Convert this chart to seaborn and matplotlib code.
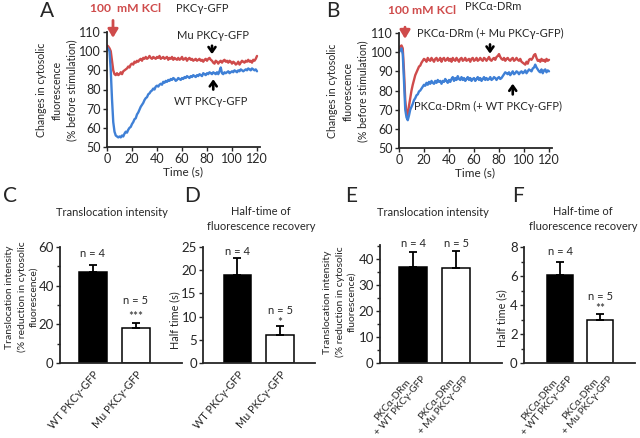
import numpy as np
import pandas as pd
import matplotlib
matplotlib.use("Agg")
import matplotlib.pyplot as plt
import seaborn as sns

sns.set_style("ticks")
plt.rcParams['font.family'] = ['Lato', 'DejaVu Sans']

# ---------------- data ----------------
time_s = list(range(0, 121))

a_mu = [103, 102.5, 101.5, 100, 95, 90, 88, 87.5, 88.5, 87.5,
        88, 89, 88, 89.5, 90, 90.5, 91, 92, 91.5, 93,
        93.5, 93, 94.5, 94, 95, 94.5, 95.5, 96, 95, 96.5,
        96, 97, 96, 96.5, 97.5, 96.5, 96, 97, 96.5, 96,
        97, 96.5, 97.5, 96, 96.5, 97, 96, 96.5, 97, 95.5,
        96.5, 96, 97, 95.5, 96.5, 96, 95.5, 96.5, 95.5, 96,
        97, 95.5, 96, 96.5, 95, 96, 96.5, 95.5, 96, 95,
        95.5, 96, 95, 95.5, 96, 95, 95.5, 94.5, 95.5, 96,
        95, 96, 96.5, 95.5, 95, 94, 93.5, 95, 94.5, 93.5,
        94.5, 95, 94, 95, 95.5, 94.5, 95, 94, 95, 94.5,
        93.5, 94.5, 94, 93, 93.5, 94.5, 93, 94, 95, 94.5,
        94, 95, 94.5, 95.5, 94.5, 95, 94, 95.5, 95, 96, 97.5]

a_wt = [102, 101, 100, 90, 75, 63, 58, 56, 55.5, 55,
        55.5, 55, 56, 55.5, 57, 58, 57.5, 59, 60, 60.5,
        62, 63, 64.5, 65, 67, 68, 69.5, 71, 72, 73,
        74.5, 75.5, 76, 77.5, 78, 79, 79.5, 80.5, 80, 81.5,
        82, 81.5, 82.5, 83, 82.5, 84, 83.5, 84.5, 84, 85,
        84.5, 85.5, 85, 86, 85.5, 84.5, 85, 86, 85.5, 85,
        86, 85.5, 86.5, 86, 87, 86.5, 86, 87, 86.5, 87.5,
        87, 86.5, 87.5, 87, 88, 87.5, 87, 88.5, 88, 87.5,
        88.5, 88, 89, 88.5, 88, 89, 88.5, 88, 89, 88,
        89.5, 91.5, 88.5, 88, 89, 88.5, 89, 89.5, 88.5, 89,
        89.5, 89, 90, 89.5, 89, 90, 89.5, 90.5, 90, 89.5,
        90, 90.5, 90, 91, 90.5, 90, 91, 90.5, 90, 90.5, 89.5]

b_mu = [102, 103, 103.5, 102, 90, 75, 68, 67, 72, 76,
        80, 83, 85.5, 88, 89.5, 91, 92.5, 93, 94.5, 95.5,
        96.5, 96, 95, 97, 96, 95.5, 97, 96, 95, 96.5,
        97, 95.5, 96, 97, 95, 96.5, 97, 95.5, 96, 97,
        95.5, 96.5, 95, 97, 96, 95.5, 97, 96, 95, 96.5,
        97, 95.5, 96, 97, 95.5, 96, 96.5, 95, 96.5, 97,
        95.5, 96, 97, 95.5, 96, 97, 96, 95.5, 97, 96.5,
        95.5, 96.5, 97.5, 96, 95.5, 96.5, 97, 96, 97.5, 98,
        99, 97.5, 96.5, 96, 97, 95.5, 96.5, 97, 96, 95.5,
        96.5, 97, 95.5, 96, 97, 96, 95.5, 96.5, 95, 94.5,
        94, 93.5, 95, 94, 96, 96.5, 96, 97, 98.5, 99,
        97, 95.5, 96, 95, 96.5, 95.5, 96, 95, 96.5, 95.5, 96]

b_wt = [100, 101, 102, 99, 85, 70, 66, 64.5, 67, 70,
        71.5, 73, 75, 76, 77.5, 78, 79.5, 80, 81, 82,
        83, 82.5, 84, 83, 84.5, 83.5, 85, 84, 83.5, 85,
        84, 85.5, 84.5, 85, 83.5, 85, 84.5, 86, 85, 84,
        85.5, 84.5, 86, 87, 85, 86.5, 85.5, 87.5, 86, 85.5,
        87, 85.5, 86.5, 85, 86, 87, 85.5, 86.5, 85, 86,
        86.5, 85, 86, 87, 85.5, 86.5, 85, 86, 87, 85.5,
        86.5, 85.5, 86, 87, 85.5, 86, 87, 86.5, 85.5, 86.5,
        87, 86, 86.5, 87.5, 88.5, 89.5, 89, 88.5, 89.5, 88,
        89, 90, 88.5, 89, 90, 89.5, 88.5, 89.5, 90, 89,
        89.5, 90.5, 89, 90, 91, 90.5, 90, 91.5, 92, 93.5,
        92, 91, 90, 89.5, 91, 89, 90.5, 91, 89.5, 90.5, 90]

cd_labels = ["WT PKCγ-GFP", "Mu PKCγ-GFP"]
ef_labels = ["PKCα-DRm\n+ WT PKCγ-GFP", "PKCα-DRm\n+ Mu PKCγ-GFP"]

c_vals = [47, 18]
c_err = [3.5, 2.5]
d_vals = [19, 6]
d_err = [3.7, 2.0]
e_vals = [37, 36.5]
e_err = [5.8, 6.5]
f_vals = [6.1, 3.0]
f_err = [0.9, 0.35]

n_labels = ["n = 4", "n = 5"]
c_sig = "***"
d_sig = "*"
f_sig = "**"

RED = "#cf4b4b"
BLUE = "#3f80d6"

W, H = 640, 438
fig = plt.figure(figsize=(W / 100, H / 100), dpi=100)

TICK_FS = 9
LAB_FS = 7.6


def rect(l, r, t, b):
    return [l / W, 1 - b / H, (r - l) / W, (b - t) / H]


def px(x, y):
    return x / W, 1 - y / H


def vlabel(x, y, s, fs=LAB_FS, ls=1.45):
    fig.text(*px(x, y), s, rotation=90, ha="center", va="center",
             multialignment="center", fontsize=fs, linespacing=ls)


def trace_axes(r, mu, wt):
    ax = fig.add_axes(r)
    df = pd.DataFrame({"t": time_s, "mu": mu, "wt": wt})
    sns.lineplot(data=df, x="t", y="mu", color=RED, lw=1.7, ax=ax)
    sns.lineplot(data=df, x="t", y="wt", color=BLUE, lw=1.7, ax=ax)
    ax.set_xlim(0, 122)
    ax.set_ylim(50, 110)
    ax.set_xticks(range(0, 121, 20))
    ax.set_yticks(range(50, 111, 10))
    ax.tick_params(labelsize=TICK_FS, length=3, width=1, pad=1.5)
    sns.despine(ax=ax)
    for s in ["left", "bottom"]:
        ax.spines[s].set_linewidth(1.3)
    ax.set_xlabel("Time (s)", fontsize=8.5, labelpad=1)
    ax.set_ylabel("")
    return ax


YL_AB = "Changes in cytosolic\nfluorescence\n(% before stimulation)"
ARROW_K = dict(arrowstyle="->,head_length=0.35,head_width=0.25", color="black", lw=1.9)
ARROW_R = dict(arrowstyle="-|>,head_length=0.5,head_width=0.3", color=RED, lw=2)

# ---------- A ----------
axA = trace_axes(rect(107, 259.5, 32, 147), a_mu, a_wt)
vlabel(57, 90, YL_AB)
axA.annotate("", xy=(4.8, 105.5), xytext=(4.8, 117.5), annotation_clip=False,
             arrowprops=ARROW_R)
axA.annotate("", xy=(84, 97), xytext=(84, 104.3), arrowprops=ARROW_K)
axA.annotate("", xy=(85, 86.8), xytext=(85, 78.5), arrowprops=ARROW_K)
axA.text(84.8, 108, "Mu PKCγ-GFP", fontsize=8, ha="center", va="center")
axA.text(83, 73.5, "WT PKCγ-GFP", fontsize=8, ha="center", va="center")
fig.text(*px(125, 8), "100  mM KCl", color=RED, fontsize=8.7, fontweight="bold",
         ha="center", va="center")
fig.text(*px(202, 9), "PKCγ-GFP", fontsize=8, ha="center", va="center")
fig.text(*px(47, 11), "A", fontsize=15, ha="center", va="center")

# ---------- B ----------
axB = trace_axes(rect(399, 551.5, 33, 148), b_mu, b_wt)
vlabel(348, 91, YL_AB)
axB.annotate("", xy=(4.8, 105.5), xytext=(4.8, 114.5), annotation_clip=False,
             arrowprops=ARROW_R)
axB.annotate("", xy=(72.8, 97.8), xytext=(72.8, 105.5), arrowprops=ARROW_K)
axB.annotate("", xy=(91, 85), xytext=(91, 76.5), arrowprops=ARROW_K)
axB.text(72.8, 109.5, "PKCα-DRm (+ Mu PKCγ-GFP)", fontsize=8, ha="center", va="center")
axB.text(71, 71.5, "PKCα-DRm (+ WT PKCγ-GFP)", fontsize=8, ha="center", va="center")
fig.text(*px(422, 10), "100 mM KCl", color=RED, fontsize=8.7, fontweight="bold",
         ha="center", va="center")
fig.text(*px(493, 7), "PKCα-DRm", fontsize=8, ha="center", va="center")
fig.text(*px(333, 11), "B", fontsize=15, ha="center", va="center")


# ---------- bar panels ----------
def bar_axes(r, xlim, ylim, labels, vals, errs, lab_fs=7.8):
    ax = fig.add_axes(r)
    df = pd.DataFrame({"g": labels, "v": vals})
    sns.barplot(data=df, x="g", y="v", hue="g", palette=["black", "white"],
                edgecolor="black", linewidth=1.1, width=0.65, legend=False, ax=ax)
    ax.errorbar([0, 1], vals, yerr=[[0, 0], errs], fmt="none", ecolor="black",
                elinewidth=1.3, capsize=3, capthick=1.3)
    ax.set_xlim(*xlim)
    ax.set_ylim(*ylim)
    sns.despine(ax=ax)
    for s in ["left", "bottom"]:
        ax.spines[s].set_linewidth(1.3)
    ax.set_xlabel("")
    ax.set_ylabel("")
    ax.set_xticks([0, 1])
    ax.set_xticklabels(labels, rotation=50, ha="right", va="top",
                       rotation_mode="anchor", fontsize=lab_fs, linespacing=1.15,
                       multialignment="center")
    ax.tick_params(axis="x", length=0, pad=4)
    ax.tick_params(axis="y", labelsize=TICK_FS + 0.5, length=3, width=1, pad=1.5)
    ax.tick_params(axis="y", which="minor", length=2, width=1)
    return ax


C_YL = "Translocation intensity\n(% reduction in cytosolic\nfluorescence)"

axC = bar_axes(rect(60, 182, 247, 363), (-0.767, 2.07), (0, 60), cd_labels, c_vals, c_err)
axC.set_yticks([0, 20, 40, 60])
axC.set_yticks([10, 30, 50], minor=True)
vlabel(22, 297, C_YL, fs=7.5, ls=1.4)
axC.text(0, 56.5, n_labels[0], ha="center", va="center", fontsize=8, clip_on=False)
axC.text(1, 32.5, n_labels[1], ha="center", va="center", fontsize=8)
axC.text(1, 24.3, c_sig, ha="center", va="center", fontsize=8.5)

axD = bar_axes(rect(203, 315, 247, 363), (-0.81, 1.82), (0, 25), cd_labels, d_vals, d_err)
axD.set_yticks(range(0, 26, 5))
vlabel(175, 320, "Half time (s)", fs=7.8)
axD.text(0, 24, n_labels[0], ha="center", va="center", fontsize=8, clip_on=False)
axD.text(1, 11.4, n_labels[1], ha="center", va="center", fontsize=8)
axD.text(1, 8.8, d_sig, ha="center", va="center", fontsize=8.5)

axE = bar_axes(rect(380, 502, 245, 363), (-0.77, 2.07), (0, 45.4), ef_labels, e_vals, e_err,
               lab_fs=7.2)
axE.set_yticks([0, 10, 20, 30, 40])
axE.set_yticks([5, 15, 25, 35, 45], minor=True)
vlabel(340, 302, C_YL, fs=7.5, ls=1.4)
axE.text(0, 45.8, n_labels[0], ha="center", va="center", fontsize=8, clip_on=False)
axE.text(1, 45.8, n_labels[1], ha="center", va="center", fontsize=8, clip_on=False)

axF = bar_axes(rect(524, 635, 247, 363), (-0.9, 1.875), (0, 8), ef_labels, f_vals, f_err,
               lab_fs=7.2)
axF.set_yticks([0, 2, 4, 6, 8])
axF.set_yticks([1, 3, 5, 7], minor=True)
vlabel(502, 318, "Half time (s)", fs=7.8)
axF.text(0, 7.68, n_labels[0], ha="center", va="center", fontsize=8, clip_on=False)
axF.text(1, 4.57, n_labels[1], ha="center", va="center", fontsize=8)
axF.text(1, 3.75, f_sig, ha="center", va="center", fontsize=8.5)

# titles and letters
fig.text(*px(112, 212), "Translocation intensity", fontsize=8, ha="center", va="center")
fig.text(*px(261, 219), "Half-time of\nfluorescence recovery", fontsize=8,
         ha="center", va="center", linespacing=1.4)
fig.text(*px(433, 212), "Translocation intensity", fontsize=8, ha="center", va="center")
fig.text(*px(583, 219), "Half-time of\nfluorescence recovery", fontsize=8,
         ha="center", va="center", linespacing=1.4)
fig.text(*px(10, 196), "C", fontsize=15, ha="center", va="center")
fig.text(*px(192, 196), "D", fontsize=15, ha="center", va="center")
fig.text(*px(351, 196), "E", fontsize=15, ha="center", va="center")
fig.text(*px(518, 196), "F", fontsize=15, ha="center", va="center")

fig.savefig("out.png", dpi=100)
